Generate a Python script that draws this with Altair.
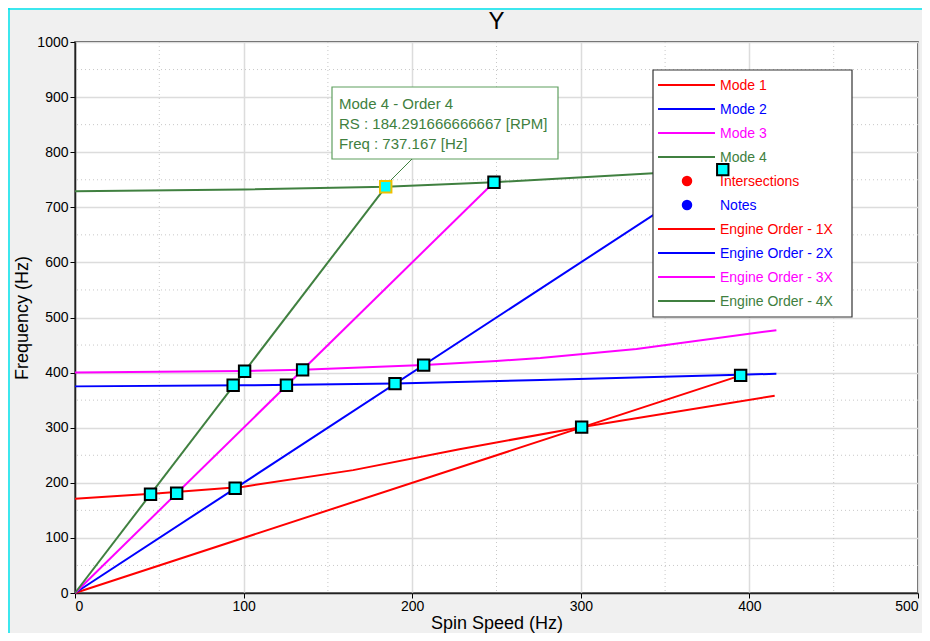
import altair as alt
import pandas as pd

# ---------------- data ----------------
series_names = ["Mode 1", "Mode 2", "Mode 3", "Mode 4",
                "Engine Order - 1X", "Engine Order - 2X", "Engine Order - 3X", "Engine Order - 4X"]
series_colors = ["#ff0000", "#0000ff", "#ff00ff", "#408040",
                 "#ff0000", "#0000ff", "#ff00ff", "#408040"]

mode1_x = [0, 50, 100, 165, 228, 300, 415]
mode1_y = [171, 181, 193, 223, 261, 301, 358]
mode2_x = [0, 100, 190, 276, 394, 416]
mode2_y = [375, 377, 380, 386.6, 396, 398]
mode3_x = [0, 100, 135, 207, 250, 276, 333, 416]
mode3_y = [400, 403, 405, 413.8, 421, 426.5, 443, 477]
mode4_x = [0, 100, 184.29, 248.5, 343, 384.2, 416]
mode4_y = [729, 732.5, 737.17, 745.5, 762, 768.4, 775]

eo1_x = [0, 395]
eo1_y = [0, 395]
eo2_x = [0, 384.2]
eo2_y = [0, 768.4]
eo3_x = [0, 248.5]
eo3_y = [0, 745.5]
eo4_x = [0, 184.29]
eo4_y = [0, 737.17]

inter_x = [44.8, 60.3, 95.0, 300.5, 93.8, 100.6, 125.4, 135.0, 189.8, 206.8, 248.5, 384.2, 394.8]
inter_y = [179.2, 181.0, 190.0, 301.0, 377.0, 402.5, 377.0, 405.0, 380.0, 413.6, 745.5, 768.4, 395.0]

note_x = [184.291666666667]
note_y = [737.167]
note_lines = ["Mode 4 - Order 4", "RS : 184.291666666667 [RPM]", "Freq : 737.167 [Hz]"]

legend_labels = ["Mode 1", "Mode 2", "Mode 3", "Mode 4", "Intersections", "Notes",
                 "Engine Order - 1X", "Engine Order - 2X", "Engine Order - 3X", "Engine Order - 4X"]
legend_colors = ["#ff0000", "#0000ff", "#ff00ff", "#408040", "#ff0000", "#0000ff",
                 "#ff0000", "#0000ff", "#ff00ff", "#408040"]
legend_kinds = ["line", "line", "line", "line", "dot", "dot", "line", "line", "line", "line"]

chart_title = "Y"
x_ticks = [0, 100, 200, 300, 400, 500]
y_ticks = [0, 100, 200, 300, 400, 500, 600, 700, 800, 900, 1000]
x_minor = [50, 150, 250, 350, 450]
y_minor = [50, 150, 250, 350, 450, 550, 650, 750, 850, 950]

# ---------------- tables ----------------
all_x = [mode1_x, mode2_x, mode3_x, mode4_x, eo1_x, eo2_x, eo3_x, eo4_x]
all_y = [mode1_y, mode2_y, mode3_y, mode4_y, eo1_y, eo2_y, eo3_y, eo4_y]
rows = []
for name, xs_, ys_ in zip(series_names, all_x, all_y):
    for i, (a, b) in enumerate(zip(xs_, ys_)):
        rows.append({"series": name, "x": a, "y": b, "idx": i})
lines_df = pd.DataFrame(rows)
inter_df = pd.DataFrame({"x": inter_x, "y": inter_y})
note_df = pd.DataFrame({"x": note_x, "y": note_y})
one = pd.DataFrame({"a": [0]})

FONT = "Liberation Sans"
W, H = 843, 551

xscale = alt.Scale(domain=[0, 500], nice=False, zero=False)
yscale = alt.Scale(domain=[0, 1000], nice=False, zero=False)
xaxis = alt.Axis(values=x_ticks, title="Spin Speed (Hz)", grid=True, format="d")
yaxis = alt.Axis(values=y_ticks, title="Frequency (Hz)", grid=True, format="d")


def X(field="x"):
    return alt.X(f"{field}:Q", scale=xscale, axis=xaxis)


def Y(field="y"):
    return alt.Y(f"{field}:Q", scale=yscale, axis=yaxis)


layers = []

# minor dotted grid
layers.append(alt.Chart(pd.DataFrame({"x": x_minor})).mark_rule(
    color="#c8c8c8", strokeDash=[1, 3], strokeWidth=1).encode(x=X()))
layers.append(alt.Chart(pd.DataFrame({"y": y_minor})).mark_rule(
    color="#c8c8c8", strokeDash=[1, 3], strokeWidth=1).encode(y=Y()))

# series lines
layers.append(alt.Chart(lines_df).mark_line(strokeWidth=2).encode(
    x=X(), y=Y(),
    color=alt.Color("series:N", scale=alt.Scale(domain=series_names, range=series_colors), legend=None),
    detail="series:N",
    order=alt.Order("idx:Q"),
))

# legend box (manual)
LX0, LX1, LY0, LY1 = 578, 777, 28, 275
layers.append(alt.Chart(one).mark_rect(fill="white", stroke="#333333", strokeWidth=1.2).encode(
    x=alt.value(LX0), x2=alt.value(LX1), y=alt.value(LY0), y2=alt.value(LY1)))
for i, (lab, col, kind) in enumerate(zip(legend_labels, legend_colors, legend_kinds)):
    yy = 43 + 24 * i
    if kind == "line":
        layers.append(alt.Chart(one).mark_rule(color=col, strokeWidth=2).encode(
            x=alt.value(583), x2=alt.value(640), y=alt.value(yy)))
    else:
        layers.append(alt.Chart(one).mark_circle(color=col, size=110, opacity=1).encode(
            x=alt.value(612), y=alt.value(yy)))
    layers.append(alt.Chart(one).mark_text(
        align="left", baseline="middle", fontSize=14, font=FONT, color=col).encode(
        x=alt.value(645), y=alt.value(yy + 1), text=alt.value(lab)))

# annotation box
layers.append(alt.Chart(one).mark_rect(fill="white", stroke="#5f9f5f", strokeWidth=1.2).encode(
    x=alt.value(257), x2=alt.value(483), y=alt.value(45), y2=alt.value(117)))
for i, t in enumerate(note_lines):
    layers.append(alt.Chart(one).mark_text(
        align="left", baseline="middle", fontSize=15, font=FONT, color="#408040").encode(
        x=alt.value(264), y=alt.value(62 + 20 * i), text=alt.value(t)))
layers.append(alt.Chart(one).mark_rule(color="#408040", strokeWidth=1).encode(
    x=alt.value(337), y=alt.value(117), x2=alt.value(310), y2=alt.value(144)))

# intersection markers
layers.append(alt.Chart(inter_df).mark_square(
    size=130, fill="#00ffff", stroke="#000000", strokeWidth=2, opacity=1).encode(x=X(), y=Y()))
layers.append(alt.Chart(note_df).mark_square(
    size=130, fill="#00ffff", stroke="#f0c000", strokeWidth=2, opacity=1).encode(x=X(), y=Y()))

# cyan frame edges of the window
layers.append(alt.Chart(one).mark_rule(color="#00e5ee", strokeWidth=1.5).encode(
    x=alt.value(-66), y=alt.value(-34), y2=alt.value(H + 40)))
layers.append(alt.Chart(one).mark_rule(color="#00e5ee", strokeWidth=1.5).encode(
    x=alt.value(-67), x2=alt.value(W + 4), y=alt.value(-33)))

# chart title as text above the plot
layers.append(alt.Chart(one).mark_text(
    align="center", baseline="middle", fontSize=24, font=FONT, color="black").encode(
    x=alt.value(W / 2), y=alt.value(-20), text=alt.value(chart_title)))

chart = alt.layer(*layers).properties(
    width=W, height=H,
    autosize=alt.AutoSizeParams(type="none"),
    padding={"left": 67, "top": 34, "right": 4, "bottom": 40},
).configure(background="#f0f0f0").configure_view(
    fill="white", stroke="#222222", strokeWidth=1.5
).configure_axis(
    labelFont=FONT, labelFontSize=14, labelColor="black",
    titleFont=FONT, titleFontSize=18, titleFontWeight="normal", titleColor="black",
    tickColor="black", tickSize=5, domainColor="#222222", domainWidth=1.5,
    gridColor="#dcdcdc", gridWidth=1.5, labelPadding=2,
).configure_axisX(titlePadding=1, labelPadding=1).configure_axisY(titlePadding=5)

chart.save("out.html", embed_options={"renderer": "svg", "actions": False})
